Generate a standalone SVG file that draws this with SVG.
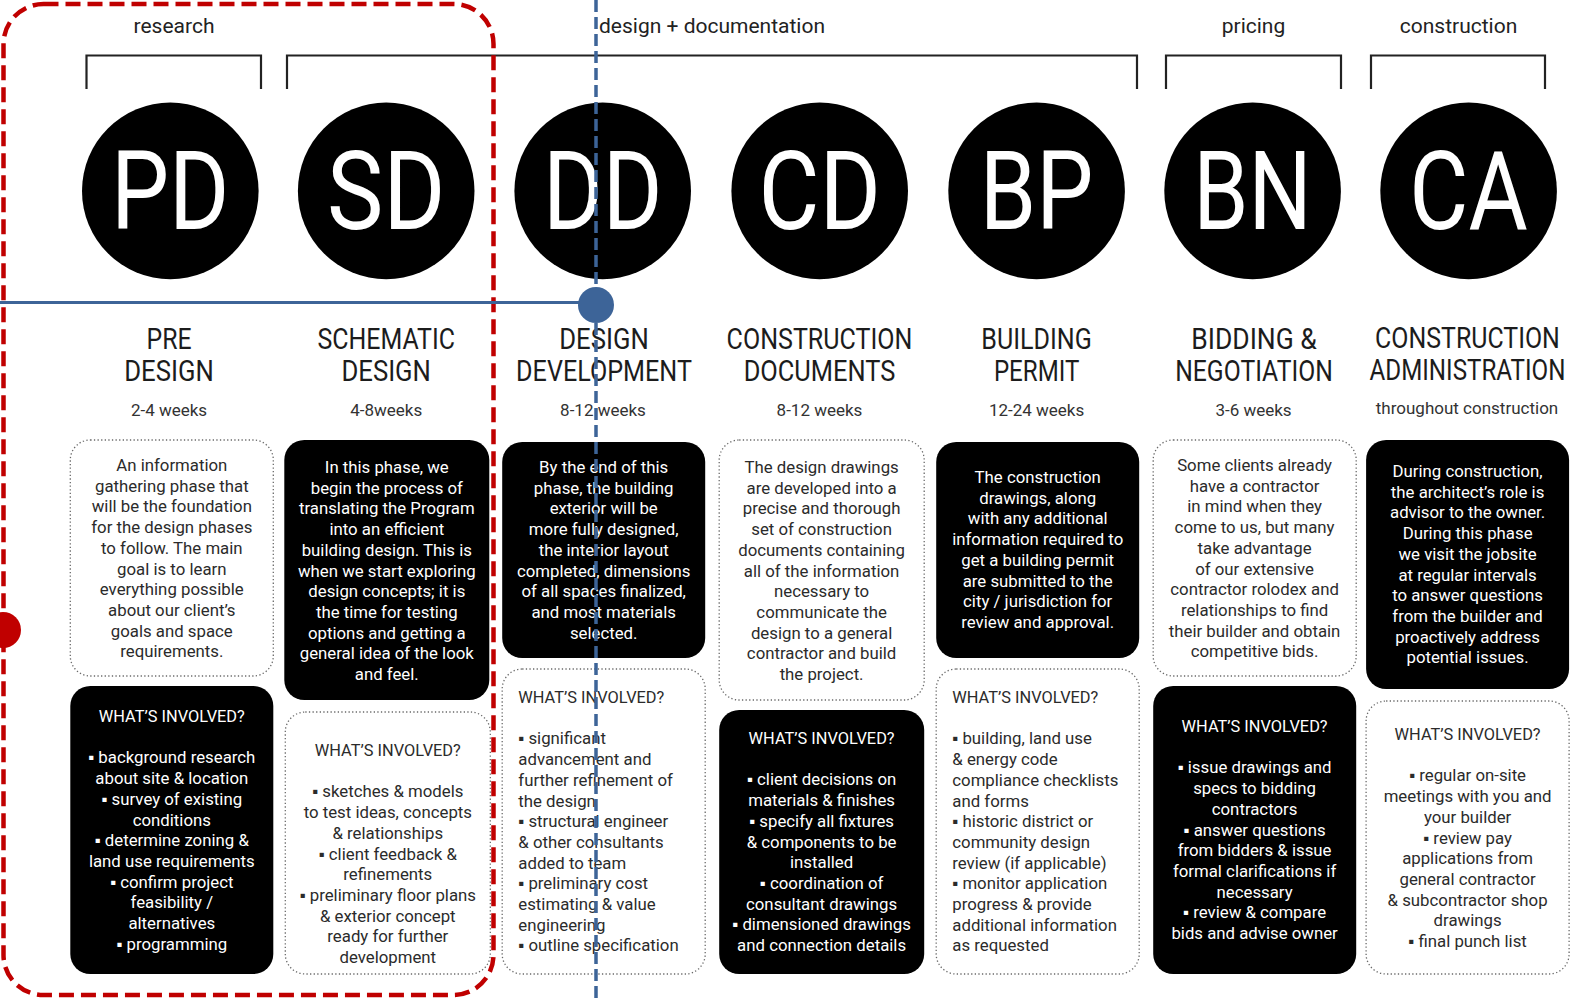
<svg xmlns="http://www.w3.org/2000/svg" width="1575" height="1001" viewBox="0 0 1575 1001">
<style>
text{font-family:Roboto,"Liberation Sans",sans-serif}
.circ{fill:#000}
.ct{font-size:110px;fill:#fff;text-anchor:middle}
.ti{font-size:30px;fill:#1c1c1c;text-anchor:middle}
.wk{font-size:17px;fill:#333;text-anchor:middle}
.lab{font-size:21px;fill:#222;text-anchor:middle}
.dark{fill:#000}
.light{fill:#fff;stroke:#6a6a6a;stroke-width:1.3;stroke-dasharray:1.3 2.3}
.bw{font-size:16.8px;fill:#fff;text-anchor:middle}
.bb{font-size:16.8px;fill:#2b2b2b;text-anchor:middle}
.bl{font-size:16.8px;fill:#2b2b2b}
.br{fill:none;stroke:#222;stroke-width:2.2}
</style>
<rect width="1575" height="1001" fill="#fff"/>
<g id="phase-labels">
<text class="lab" x="174" y="33">research</text>
<path class="br" d="M86.5 89V55.5H261V89"/>
<text class="lab" x="712" y="33">design + documentation</text>
<path class="br" d="M287 89V55.5H1137V89"/>
<text class="lab" x="1253.5" y="33">pricing</text>
<path class="br" d="M1166 89V55.5H1341V89"/>
<text class="lab" x="1458.5" y="33">construction</text>
<path class="br" d="M1371 89V55.5H1545V89"/>
</g>
<g id="node-pd">
<circle class="circ" cx="170.3" cy="190.9" r="88.3"/>
<text class="ct" x="170.3" y="229" textLength="118.5" lengthAdjust="spacingAndGlyphs">PD</text>
<text class="ti" x="169" y="348.5" textLength="45" lengthAdjust="spacingAndGlyphs">PRE</text>
<text class="ti" x="169" y="380.5" textLength="89.5" lengthAdjust="spacingAndGlyphs">DESIGN</text>
<text class="wk" x="169" y="416">2-4 weeks</text>
<rect class="light" x="70.3" y="440" width="203" height="236" rx="20"/>
<text class="bb" y="471"><tspan x="171.8">An information</tspan><tspan x="171.8" dy="20.7">gathering phase that</tspan><tspan x="171.8" dy="20.7">will be the foundation</tspan><tspan x="171.8" dy="20.7">for the design phases</tspan><tspan x="171.8" dy="20.7">to follow. The main</tspan><tspan x="171.8" dy="20.7">goal is to learn</tspan><tspan x="171.8" dy="20.7">everything possible</tspan><tspan x="171.8" dy="20.7">about our client’s</tspan><tspan x="171.8" dy="20.7">goals and space</tspan><tspan x="171.8" dy="20.7">requirements.</tspan></text>
<rect class="dark" x="70.3" y="686" width="203" height="288" rx="20"/>
<text class="bw" y="722"><tspan x="171.8" textLength="146" lengthAdjust="spacingAndGlyphs">WHAT’S INVOLVED?</tspan><tspan x="171.8" dy="41.4">▪ background research</tspan><tspan x="171.8" dy="20.7">about site &amp; location</tspan><tspan x="171.8" dy="20.7">▪ survey of existing</tspan><tspan x="171.8" dy="20.7">conditions</tspan><tspan x="171.8" dy="20.7">▪ determine zoning &amp;</tspan><tspan x="171.8" dy="20.7">land use requirements</tspan><tspan x="171.8" dy="20.7">▪ confirm project</tspan><tspan x="171.8" dy="20.7">feasibility /</tspan><tspan x="171.8" dy="20.7">alternatives</tspan><tspan x="171.8" dy="20.7">▪ programming</tspan></text>
</g>
<g id="node-sd">
<circle class="circ" cx="386.2" cy="190.9" r="88.3"/>
<text class="ct" x="386.2" y="229" textLength="118.5" lengthAdjust="spacingAndGlyphs">SD</text>
<text class="ti" x="386.2" y="348.5" textLength="137.6" lengthAdjust="spacingAndGlyphs">SCHEMATIC</text>
<text class="ti" x="386.2" y="380.5" textLength="89.5" lengthAdjust="spacingAndGlyphs">DESIGN</text>
<text class="wk" x="386.2" y="416">4-8weeks</text>
<rect class="dark" x="284.3" y="440" width="205" height="260" rx="20"/>
<text class="bw" y="473"><tspan x="386.8">In this phase, we</tspan><tspan x="386.8" dy="20.7">begin the process of</tspan><tspan x="386.8" dy="20.7">translating the Program</tspan><tspan x="386.8" dy="20.7">into an efficient</tspan><tspan x="386.8" dy="20.7">building design. This is</tspan><tspan x="386.8" dy="20.7">when we start exploring</tspan><tspan x="386.8" dy="20.7">design concepts; it is</tspan><tspan x="386.8" dy="20.7">the time for testing</tspan><tspan x="386.8" dy="20.7">options and getting a</tspan><tspan x="386.8" dy="20.7">general idea of the look</tspan><tspan x="386.8" dy="20.7">and feel.</tspan></text>
<rect class="light" x="285.3" y="712" width="205" height="262" rx="20"/>
<text class="bb" y="756"><tspan x="387.8" textLength="146" lengthAdjust="spacingAndGlyphs">WHAT’S INVOLVED?</tspan><tspan x="387.8" dy="41.4">▪ sketches &amp; models</tspan><tspan x="387.8" dy="20.7">to test ideas, concepts</tspan><tspan x="387.8" dy="20.7">&amp; relationships</tspan><tspan x="387.8" dy="20.7">▪ client feedback &amp;</tspan><tspan x="387.8" dy="20.7">refinements</tspan><tspan x="387.8" dy="20.7">▪ preliminary floor plans</tspan><tspan x="387.8" dy="20.7">&amp; exterior concept</tspan><tspan x="387.8" dy="20.7">ready for further</tspan><tspan x="387.8" dy="20.7">development</tspan></text>
</g>
<g id="node-dd">
<circle class="circ" cx="602.7" cy="190.9" r="88.3"/>
<text class="ct" x="602.7" y="229" textLength="119.5" lengthAdjust="spacingAndGlyphs">DD</text>
<text class="ti" x="604" y="348.5" textLength="89.5" lengthAdjust="spacingAndGlyphs">DESIGN</text>
<text class="ti" x="604" y="380.5" textLength="175.8" lengthAdjust="spacingAndGlyphs">DEVELOPMENT</text>
<text class="wk" x="603" y="416">8-12 weeks</text>
<rect class="dark" x="502.2" y="442" width="203" height="216" rx="20"/>
<text class="bw" y="473"><tspan x="603.7">By the end of this</tspan><tspan x="603.7" dy="20.7">phase, the building</tspan><tspan x="603.7" dy="20.7">exterior will be</tspan><tspan x="603.7" dy="20.7">more fully designed,</tspan><tspan x="603.7" dy="20.7">the interior layout</tspan><tspan x="603.7" dy="20.7">completed, dimensions</tspan><tspan x="603.7" dy="20.7">of all spaces finalized,</tspan><tspan x="603.7" dy="20.7">and most materials</tspan><tspan x="603.7" dy="20.7">selected.</tspan></text>
<rect class="light" x="502.2" y="669" width="203" height="305" rx="20"/>
<text class="bl" y="703"><tspan x="518.3" textLength="146" lengthAdjust="spacingAndGlyphs">WHAT’S INVOLVED?</tspan><tspan x="518.3" dy="41.4">▪ significant</tspan><tspan x="518.3" dy="20.7">advancement and</tspan><tspan x="518.3" dy="20.7">further refinement of</tspan><tspan x="518.3" dy="20.7">the design</tspan><tspan x="518.3" dy="20.7">▪ structural engineer</tspan><tspan x="518.3" dy="20.7">&amp; other consultants</tspan><tspan x="518.3" dy="20.7">added to team</tspan><tspan x="518.3" dy="20.7">▪ preliminary cost</tspan><tspan x="518.3" dy="20.7">estimating &amp; value</tspan><tspan x="518.3" dy="20.7">engineering</tspan><tspan x="518.3" dy="20.7">▪ outline specification</tspan></text>
</g>
<g id="node-cd">
<circle class="circ" cx="819.7" cy="190.9" r="88.3"/>
<text class="ct" x="819.7" y="229" textLength="122.5" lengthAdjust="spacingAndGlyphs">CD</text>
<text class="ti" x="819.5" y="348.5" textLength="185.8" lengthAdjust="spacingAndGlyphs">CONSTRUCTION</text>
<text class="ti" x="819.5" y="380.5" textLength="151.7" lengthAdjust="spacingAndGlyphs">DOCUMENTS</text>
<text class="wk" x="819.5" y="416">8-12 weeks</text>
<rect class="light" x="719.2" y="440" width="205" height="260" rx="20"/>
<text class="bb" y="473"><tspan x="821.6">The design drawings</tspan><tspan x="821.6" dy="20.7">are developed into a</tspan><tspan x="821.6" dy="20.7">precise and thorough</tspan><tspan x="821.6" dy="20.7">set of construction</tspan><tspan x="821.6" dy="20.7">documents containing</tspan><tspan x="821.6" dy="20.7">all of the information</tspan><tspan x="821.6" dy="20.7">necessary to</tspan><tspan x="821.6" dy="20.7">communicate the</tspan><tspan x="821.6" dy="20.7">design to a general</tspan><tspan x="821.6" dy="20.7">contractor and build</tspan><tspan x="821.6" dy="20.7">the project.</tspan></text>
<rect class="dark" x="719.2" y="710" width="205" height="264" rx="20"/>
<text class="bw" y="744"><tspan x="821.6" textLength="146" lengthAdjust="spacingAndGlyphs">WHAT’S INVOLVED?</tspan><tspan x="821.6" dy="41.4">▪ client decisions on</tspan><tspan x="821.6" dy="20.7">materials &amp; finishes</tspan><tspan x="821.6" dy="20.7">▪ specify all fixtures</tspan><tspan x="821.6" dy="20.7">&amp; components to be</tspan><tspan x="821.6" dy="20.7">installed</tspan><tspan x="821.6" dy="20.7">▪ coordination of</tspan><tspan x="821.6" dy="20.7">consultant drawings</tspan><tspan x="821.6" dy="20.7">▪ dimensioned drawings</tspan><tspan x="821.6" dy="20.7">and connection details</tspan></text>
</g>
<g id="node-bp">
<circle class="circ" cx="1036.6" cy="190.9" r="88.3"/>
<text class="ct" x="1036.6" y="229" textLength="113.5" lengthAdjust="spacingAndGlyphs">BP</text>
<text class="ti" x="1036.6" y="348.5" textLength="110.5" lengthAdjust="spacingAndGlyphs">BUILDING</text>
<text class="ti" x="1036.6" y="380.5" textLength="85.4" lengthAdjust="spacingAndGlyphs">PERMIT</text>
<text class="wk" x="1036.6" y="416">12-24 weeks</text>
<rect class="dark" x="936.2" y="442" width="203" height="216" rx="20"/>
<text class="bw" y="483"><tspan x="1037.7">The construction</tspan><tspan x="1037.7" dy="20.7">drawings, along</tspan><tspan x="1037.7" dy="20.7">with any additional</tspan><tspan x="1037.7" dy="20.7">information required to</tspan><tspan x="1037.7" dy="20.7">get a building permit</tspan><tspan x="1037.7" dy="20.7">are submitted to the</tspan><tspan x="1037.7" dy="20.7">city / jurisdiction for</tspan><tspan x="1037.7" dy="20.7">review and approval.</tspan></text>
<rect class="light" x="936.2" y="669" width="203" height="305" rx="20"/>
<text class="bl" y="703"><tspan x="952.3" textLength="146" lengthAdjust="spacingAndGlyphs">WHAT’S INVOLVED?</tspan><tspan x="952.3" dy="41.4">▪ building, land use</tspan><tspan x="952.3" dy="20.7">&amp; energy code</tspan><tspan x="952.3" dy="20.7">compliance checklists</tspan><tspan x="952.3" dy="20.7">and forms</tspan><tspan x="952.3" dy="20.7">▪ historic district or</tspan><tspan x="952.3" dy="20.7">community design</tspan><tspan x="952.3" dy="20.7">review (if applicable)</tspan><tspan x="952.3" dy="20.7">▪ monitor application</tspan><tspan x="952.3" dy="20.7">progress &amp; provide</tspan><tspan x="952.3" dy="20.7">additional information</tspan><tspan x="952.3" dy="20.7">as requested</tspan></text>
</g>
<g id="node-bn">
<circle class="circ" cx="1252.6" cy="190.9" r="88.3"/>
<text class="ct" x="1252.6" y="229" textLength="118.5" lengthAdjust="spacingAndGlyphs">BN</text>
<text class="ti" x="1254" y="348.5" textLength="125.6" lengthAdjust="spacingAndGlyphs">BIDDING &amp;</text>
<text class="ti" x="1254" y="380.5" textLength="157.7" lengthAdjust="spacingAndGlyphs">NEGOTIATION</text>
<text class="wk" x="1253.5" y="416">3-6 weeks</text>
<rect class="light" x="1153.2" y="440" width="203" height="236" rx="20"/>
<text class="bb" y="471"><tspan x="1254.6">Some clients already</tspan><tspan x="1254.6" dy="20.7">have a contractor</tspan><tspan x="1254.6" dy="20.7">in mind when they</tspan><tspan x="1254.6" dy="20.7">come to us, but many</tspan><tspan x="1254.6" dy="20.7">take advantage</tspan><tspan x="1254.6" dy="20.7">of our extensive</tspan><tspan x="1254.6" dy="20.7">contractor rolodex and</tspan><tspan x="1254.6" dy="20.7">relationships to find</tspan><tspan x="1254.6" dy="20.7">their builder and obtain</tspan><tspan x="1254.6" dy="20.7">competitive bids.</tspan></text>
<rect class="dark" x="1153.2" y="686" width="203" height="288" rx="20"/>
<text class="bw" y="732"><tspan x="1254.6" textLength="146" lengthAdjust="spacingAndGlyphs">WHAT’S INVOLVED?</tspan><tspan x="1254.6" dy="41.4">▪ issue drawings and</tspan><tspan x="1254.6" dy="20.7">specs to bidding</tspan><tspan x="1254.6" dy="20.7">contractors</tspan><tspan x="1254.6" dy="20.7">▪ answer questions</tspan><tspan x="1254.6" dy="20.7">from bidders &amp; issue</tspan><tspan x="1254.6" dy="20.7">formal clarifications if</tspan><tspan x="1254.6" dy="20.7">necessary</tspan><tspan x="1254.6" dy="20.7">▪ review &amp; compare</tspan><tspan x="1254.6" dy="20.7">bids and advise owner</tspan></text>
</g>
<g id="node-ca">
<circle class="circ" cx="1468.6" cy="190.9" r="88.3"/>
<text class="ct" x="1468.6" y="229" textLength="118.5" lengthAdjust="spacingAndGlyphs">CA</text>
<g transform="translate(1467.5 0) scale(0.8 1)">
<text class="ti" x="0" y="348.5" textLength="231" lengthAdjust="spacingAndGlyphs">CONSTRUCTION</text>
<text class="ti" x="0" y="380.5" textLength="245" lengthAdjust="spacingAndGlyphs">ADMINISTRATION</text>
</g>
<text class="wk" x="1467" y="414">throughout construction</text>
<rect class="dark" x="1366.1" y="440" width="203" height="249" rx="20"/>
<text class="bw" y="477"><tspan x="1467.6">During construction,</tspan><tspan x="1467.6" dy="20.7">the architect’s role is</tspan><tspan x="1467.6" dy="20.7">advisor to the owner.</tspan><tspan x="1467.6" dy="20.7">During this phase</tspan><tspan x="1467.6" dy="20.7">we visit the jobsite</tspan><tspan x="1467.6" dy="20.7">at regular intervals</tspan><tspan x="1467.6" dy="20.7">to answer questions</tspan><tspan x="1467.6" dy="20.7">from the builder and</tspan><tspan x="1467.6" dy="20.7">proactively address</tspan><tspan x="1467.6" dy="20.7">potential issues.</tspan></text>
<rect class="light" x="1366.1" y="701" width="203" height="273" rx="20"/>
<text class="bb" y="740"><tspan x="1467.6" textLength="146" lengthAdjust="spacingAndGlyphs">WHAT’S INVOLVED?</tspan><tspan x="1467.6" dy="41.4">▪ regular on-site</tspan><tspan x="1467.6" dy="20.7">meetings with you and</tspan><tspan x="1467.6" dy="20.7">your builder</tspan><tspan x="1467.6" dy="20.7">▪ review pay</tspan><tspan x="1467.6" dy="20.7">applications from</tspan><tspan x="1467.6" dy="20.7">general contractor</tspan><tspan x="1467.6" dy="20.7">&amp; subcontractor shop</tspan><tspan x="1467.6" dy="20.7">drawings</tspan><tspan x="1467.6" dy="20.7">▪ final punch list</tspan></text>
</g>
<g id="connectors">
<rect x="3.5" y="4" width="490" height="991" rx="40" fill="none" stroke="#c00000" stroke-width="4.5" stroke-dasharray="15 7"/>
<circle cx="3" cy="630" r="18" fill="#c00000"/>
<line x1="0" y1="302.5" x2="596" y2="302.5" stroke="#3d6498" stroke-width="3"/>
<line x1="596" y1="0" x2="596" y2="1001" stroke="#3d6498" stroke-width="3.5" stroke-dasharray="12 5"/>
<circle cx="596" cy="305" r="18" fill="#3d6498"/>
</g>
</svg>
